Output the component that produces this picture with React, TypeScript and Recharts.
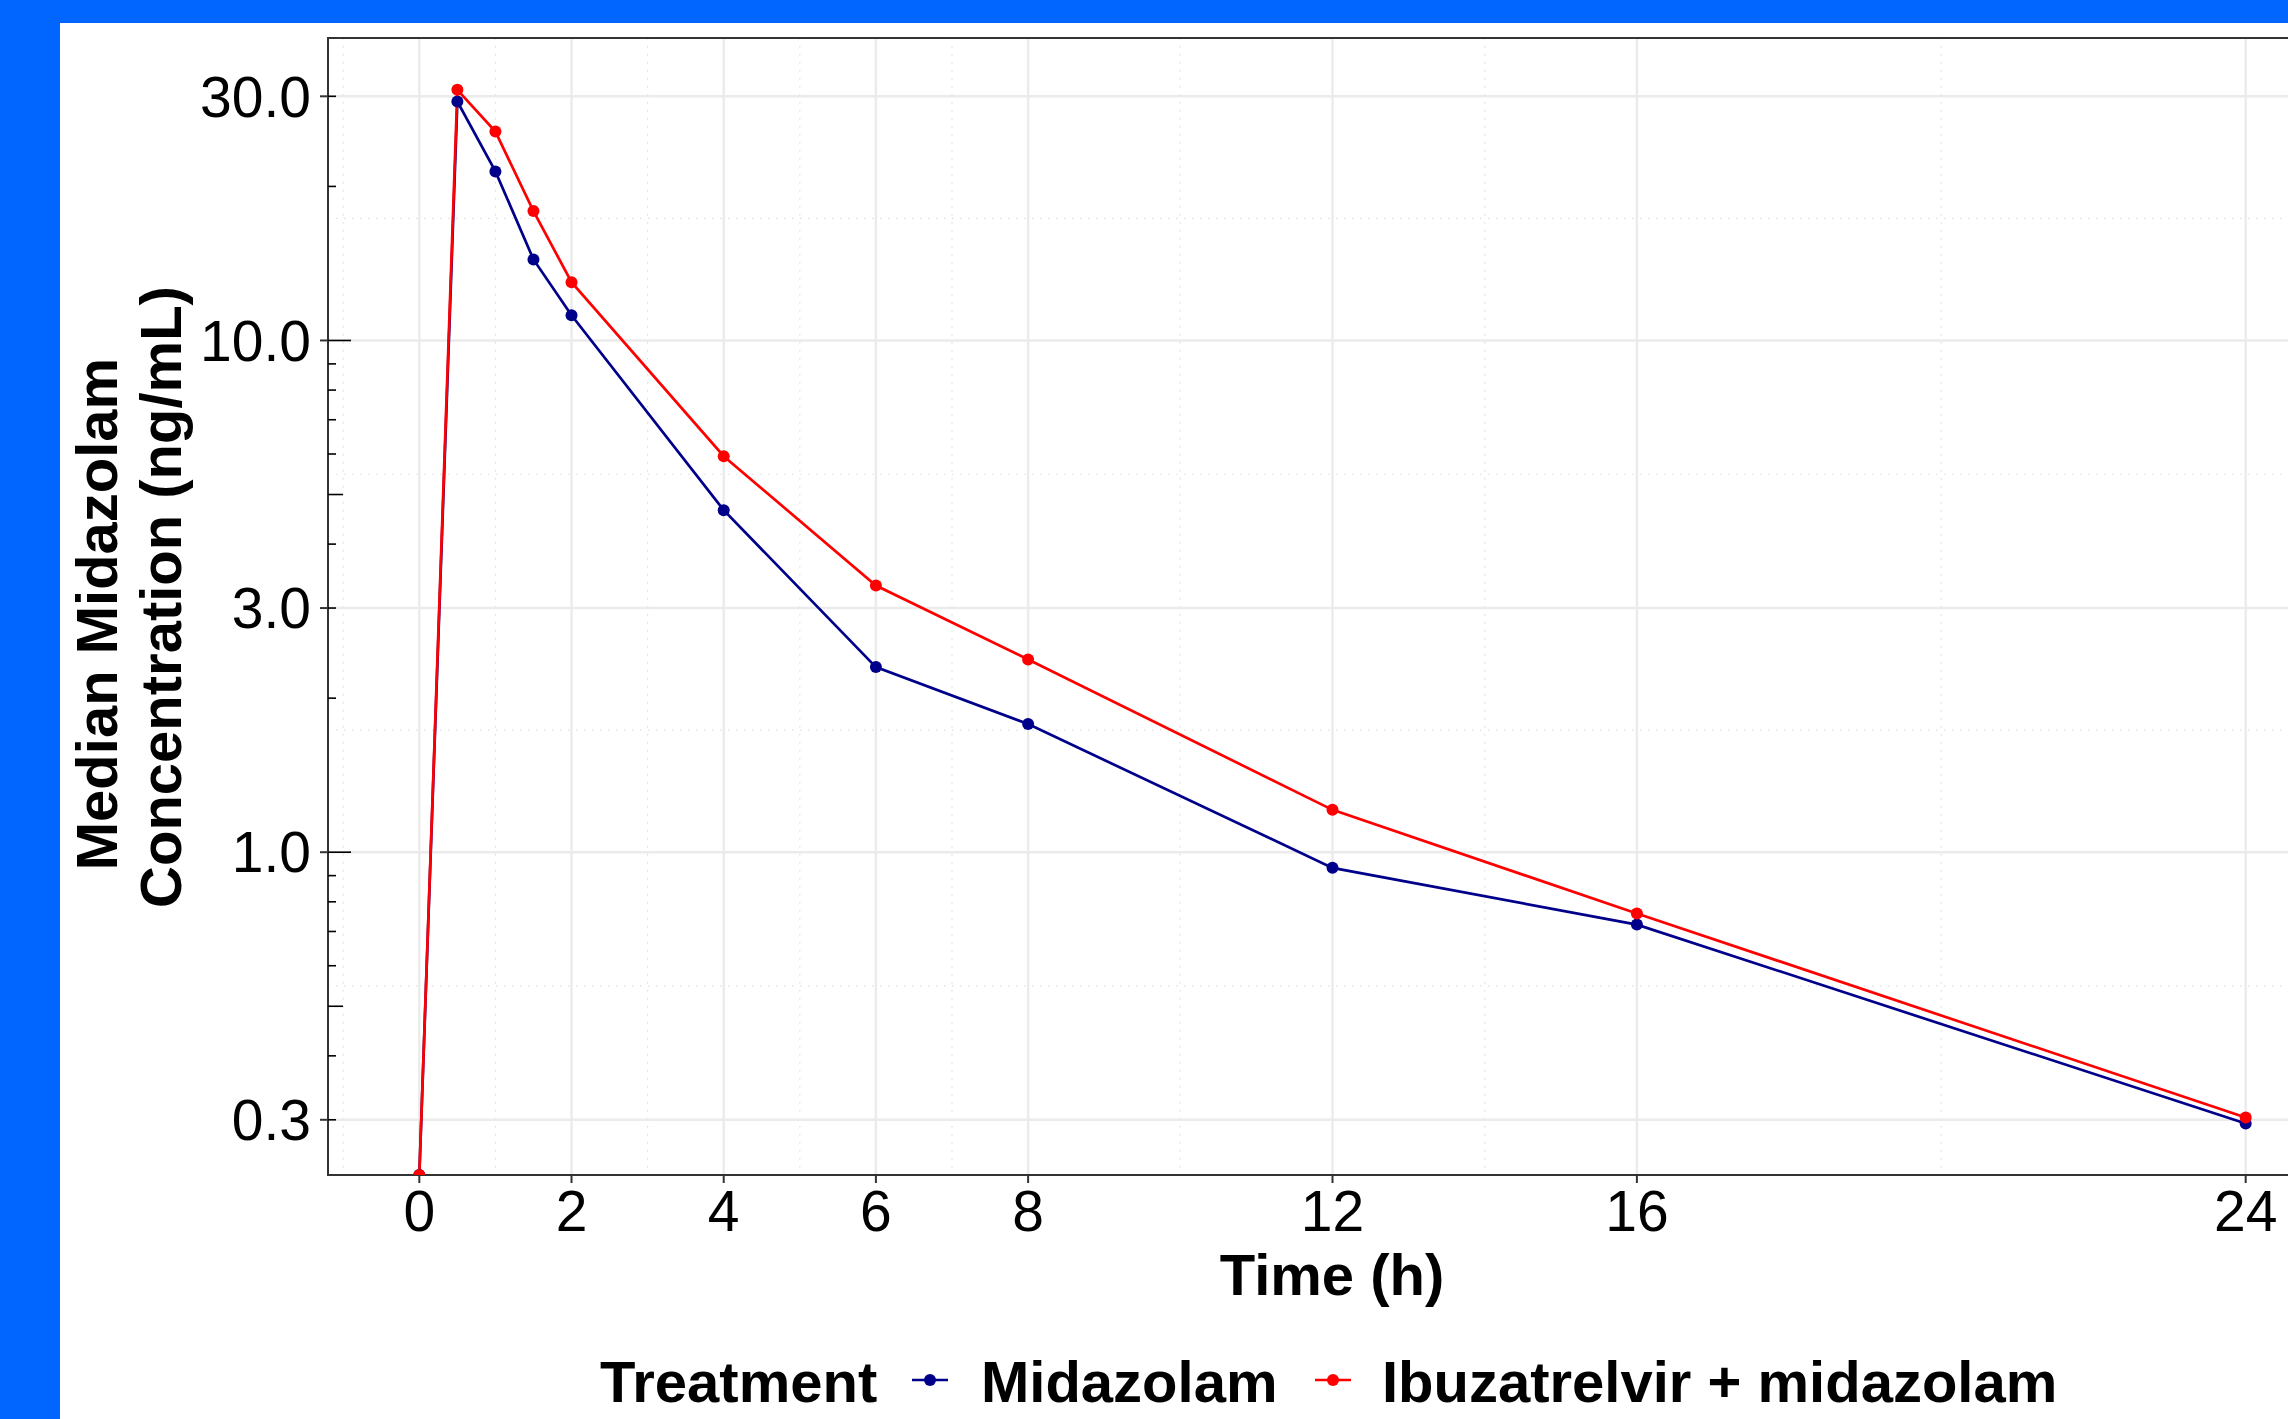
import { CartesianGrid, Line, LineChart, ReferenceArea, XAxis, YAxis } from "recharts";

// median concentrations (ng/mL) by nominal time (h); 0 = below limit, drawn at panel floor like ggplot's -Inf
const TIME_H = [0, 0.5, 1, 1.5, 2, 4, 6, 8, 12, 16, 24];
const MIDAZOLAM = [0, 29.3, 21.4, 14.4, 11.2, 4.66, 2.3, 1.78, 0.932, 0.722, 0.295];
const IBUZATRELVIR_MIDAZOLAM = [0, 30.9, 25.6, 17.9, 13.0, 5.94, 3.32, 2.38, 1.21, 0.759, 0.303];

const X_TICKS = [0, 2, 4, 6, 8, 12, 16, 24];
const X_MINOR = [-1, 1, 3, 5, 7, 10, 14, 20];
const Y_TICKS = [0.3, 1, 3, 10, 30];
const Y_MINOR = [0.548, 1.732, 5.477, 17.32];
const LOG_TICKS = [0.3, 0.4, 0.5, 0.6, 0.7, 0.8, 0.9, 1, 2, 3, 4, 5, 6, 7, 8, 9, 10, 20, 30];
const LOG_LONG = [1, 10];
const LOG_MID = [0.5, 5];

const X_DOMAIN: [number, number] = [-1.2, 25.2];
const Y_DOMAIN: [number, number] = [0.234, 39];

const BLUE = "#00008B";
const RED = "#FF0000";
const FONT = "'Liberation Sans', Arial, Helvetica, sans-serif";
const PLOT_LEFT = 328;

const floorZero = (v: number) => (v > 0 ? v : Y_DOMAIN[0]);

const data = TIME_H.map((t, i) => ({
  time: t,
  midazolam: floorZero(MIDAZOLAM[i]),
  combo: floorZero(IBUZATRELVIR_MIDAZOLAM[i]),
}));

// annotation_logticks-style marks inside the left edge
function LogTick(props: any) {
  const { y, payload } = props;
  const v = payload.value;
  const len = LOG_LONG.includes(v) ? 23 : LOG_MID.includes(v) ? 15 : 8;
  return <line x1={PLOT_LEFT} x2={PLOT_LEFT + len} y1={y} y2={y} stroke="#000" strokeWidth={1.6} />;
}

function KeyGlyph({ cx, cy, color }: { cx: number; cy: number; color: string }) {
  return (
    <g>
      <line x1={cx - 18} x2={cx + 18} y1={cy} y2={cy} stroke={color} strokeWidth={2.7} />
      <circle cx={cx} cy={cy} r={6} fill={color} />
    </g>
  );
}

export default function App() {
  return (
    <div
      style={{
        position: "fixed",
        left: 0,
        top: 0,
        width: 2288,
        height: 1419,
        overflow: "hidden",
        background: "#0066FF",
      }}
    >
      <div style={{ position: "absolute", left: 60, top: 23, right: 0, bottom: 0, background: "#fff" }} />
      <div style={{ position: "absolute", left: 0, top: 0 }}>
        <LineChart
          width={2400}
          height={1419}
          data={data}
          margin={{ top: 38, right: 63, bottom: 184, left: PLOT_LEFT - 100 }}
        >
          <CartesianGrid
            horizontalValues={Y_MINOR}
            verticalValues={X_MINOR}
            stroke="#DEDEDE"
            strokeWidth={1.2}
            strokeDasharray="1.5 6.5"
          />
          <CartesianGrid
            horizontalValues={Y_TICKS}
            verticalValues={X_TICKS}
            stroke="#EBEBEB"
            strokeWidth={2.4}
          />
          <XAxis
            dataKey="time"
            type="number"
            domain={X_DOMAIN}
            allowDataOverflow
            ticks={X_TICKS}
            interval={0}
            height={60}
            axisLine={false}
            tickSize={8}
            tickMargin={8}
            tickLine={{ stroke: "#333", strokeWidth: 2 }}
            tick={{ fontSize: 57, fill: "#000", fontFamily: FONT }}
          />
          <YAxis
            type="number"
            scale="log"
            domain={Y_DOMAIN}
            allowDataOverflow
            ticks={Y_TICKS}
            interval={0}
            width={100}
            axisLine={false}
            tickSize={8}
            tickMargin={9}
            tickLine={{ stroke: "#333", strokeWidth: 2 }}
            tickFormatter={(v: number) => v.toFixed(1)}
            tick={{ fontSize: 57, fill: "#000", fontFamily: FONT }}
          />
          <YAxis
            yAxisId="logticks"
            type="number"
            scale="log"
            domain={Y_DOMAIN}
            allowDataOverflow
            ticks={LOG_TICKS}
            interval={0}
            mirror
            width={1}
            axisLine={false}
            tickLine={false}
            tickSize={0}
            tickMargin={0}
            tick={<LogTick />}
          />
          <Line
            dataKey="midazolam"
            stroke={BLUE}
            strokeWidth={2.7}
            dot={{ r: 6, fill: BLUE, stroke: BLUE, strokeWidth: 0 }}
            activeDot={false}
            isAnimationActive={false}
          />
          <Line
            dataKey="combo"
            stroke={RED}
            strokeWidth={2.7}
            dot={{ r: 6, fill: RED, stroke: RED, strokeWidth: 0 }}
            activeDot={false}
            isAnimationActive={false}
          />
          <ReferenceArea
            x1={X_DOMAIN[0]}
            x2={X_DOMAIN[1]}
            y1={Y_DOMAIN[0]}
            y2={Y_DOMAIN[1]}
            fill="none"
            fillOpacity={0}
            stroke="#333"
            strokeWidth={2}
            ifOverflow="visible"
          />
        </LineChart>
      </div>
      <svg
        width={2288}
        height={1419}
        style={{ position: "absolute", left: 0, top: 0, pointerEvents: "none" }}
        fontFamily={FONT}
        fontWeight="bold"
        fontSize={58}
      >
        <text x={1332} y={1295} textAnchor="middle">Time (h)</text>
        <text transform="translate(117,614) rotate(-90)" textAnchor="middle">Median Midazolam</text>
        <text transform="translate(181,597) rotate(-90)" textAnchor="middle">Concentration (ng/mL)</text>
        <text x={600} y={1402}>Treatment</text>
        <KeyGlyph cx={930} cy={1380} color={BLUE} />
        <text x={981} y={1402}>Midazolam</text>
        <KeyGlyph cx={1333} cy={1380} color={RED} />
        <text x={1382} y={1402}>Ibuzatrelvir + midazolam</text>
      </svg>
    </div>
  );
}
